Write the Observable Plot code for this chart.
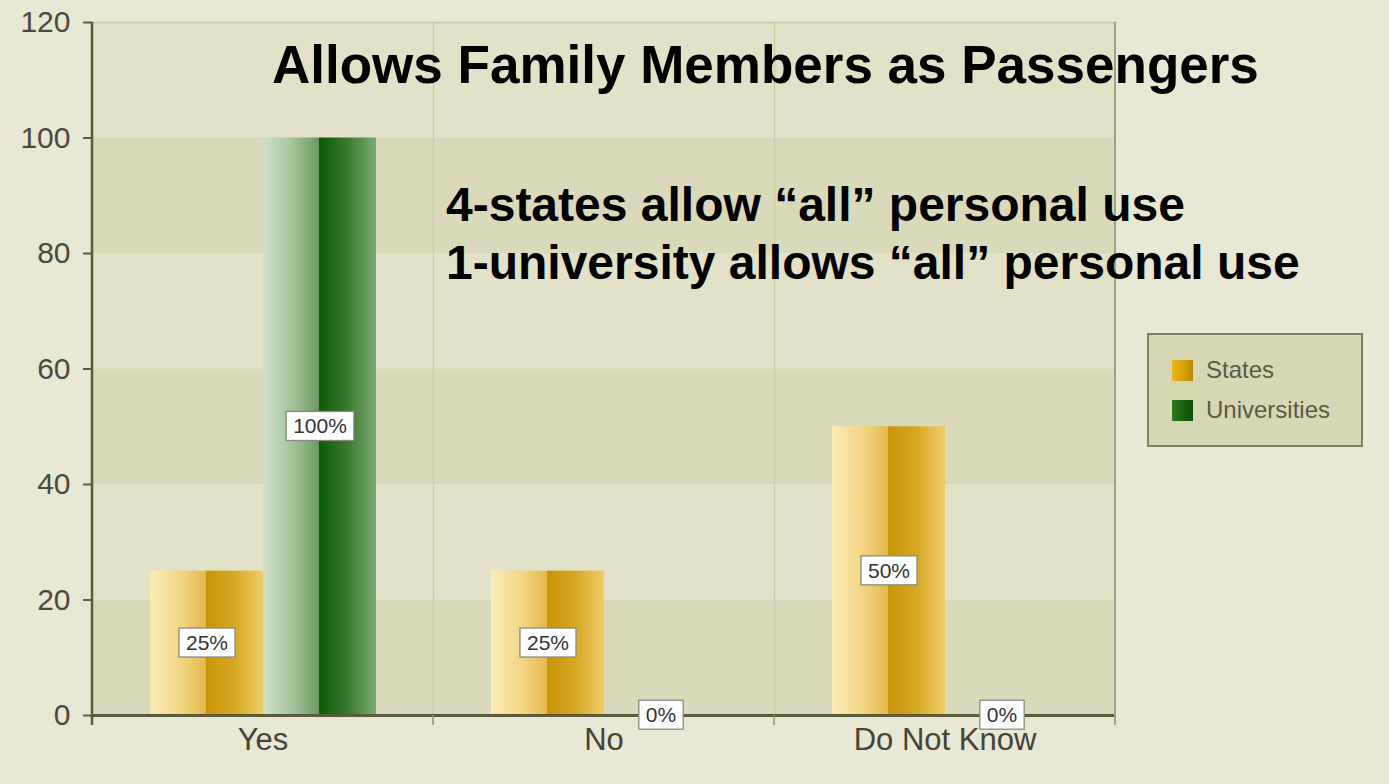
<!DOCTYPE html>
<html>
<head>
<meta charset="utf-8">
<script src="https://cdn.jsdelivr.net/npm/d3@7"></script>
<script src="https://cdn.jsdelivr.net/npm/@observablehq/plot@0.6"></script>
<style>
  html, body { margin: 0; padding: 0; background: #e9e8d5; }
  #wrap { position: relative; width: 1389px; height: 784px; overflow: hidden;
          font-family: "Liberation Sans", Arial, Helvetica, sans-serif; }
  #wrap svg { position: absolute; left: 0; top: 0; }
  .title { position: absolute; left: 272px; top: 38px; font-size: 53px; line-height: 53px;
           font-weight: bold; color: #000; white-space: nowrap; }
  .sub { position: absolute; left: 446px; top: 176px; font-size: 48px; line-height: 58px;
         font-weight: bold; color: #000; white-space: nowrap; }
  .legend { position: absolute; left: 1147px; top: 333px; width: 216px; height: 114px;
            box-sizing: border-box; background: #d8d7b4; border: 2px solid #7f7f64; }
  .item { position: absolute; left: 23px; height: 22px; display: flex; align-items: center;
          font-size: 24px; color: #5a5a46; white-space: nowrap; }
  .sw { width: 21px; height: 21px; margin-right: 13px; box-sizing: border-box; }
</style>
</head>
<body>
<div id="wrap"></div>
<script>
// ---- data ----
const categories = ["Yes", "No", "Do Not Know"];
const seriesNames = ["States", "Universities"];
const statesValues = [25, 25, 50];
const universitiesValues = [100, 0, 0];
const yTicks = [0, 20, 40, 60, 80, 100, 120];
const bandEdges = [0, 20, 40, 60, 80, 100, 120];
const titleText = "Allows Family Members as Passengers";
const subtitleLines = ["4-states allow \u201call\u201d personal use", "1-university allows \u201call\u201d personal use"];

const rows = categories.flatMap((c, i) => [
  {category: c, series: seriesNames[0], value: statesValues[i]},
  {category: c, series: seriesNames[1], value: universitiesValues[i]}
]);
const bands = d3.pairs(bandEdges).map(([a, b], i) => ({y1: a, y2: b, dark: i % 2 === 0}));

const W = 1389, H = 784, ML = 92, MR = 274, MT = 22, MB = 69;
const axisColor = "#5c5c3c";

const plot = Plot.plot({
  width: W, height: H,
  marginLeft: ML, marginRight: MR, marginTop: MT, marginBottom: MB,
  style: {background: "transparent", fontFamily: "'Liberation Sans', Arial, sans-serif", overflow: "visible"},
  fx: {domain: categories, padding: 0, label: null},
  x: {domain: seriesNames, paddingInner: 0, paddingOuter: 0.5, axis: null},
  y: {domain: [0, 120], label: null},
  marks: [
    Plot.rect(bands.filter(d => !d.dark), {y1: "y1", y2: "y2", fill: "#e3e2c9"}),
    Plot.rect(bands.filter(d => d.dark), {y1: "y1", y2: "y2", fill: "#dad9ba"}),
    Plot.frame({anchor: "left", stroke: "#cfcea9", strokeWidth: 1.5}),
    Plot.frame({anchor: "top", stroke: "#cfcea6", strokeWidth: 2}),
    Plot.barY(rows.filter(d => d.series === "States"),
      {fx: "category", x: "series", y: "value", fill: "url(#gradStates)"}),
    Plot.barY(rows.filter(d => d.series === "Universities"),
      {fx: "category", x: "series", y: "value", fill: "url(#gradUniv)"}),
    Plot.ruleY([0], {stroke: axisColor, strokeWidth: 3}),
    Plot.axisY({ticks: yTicks, tickSize: 9, tickPadding: 13, fontSize: 30,
                stroke: axisColor, strokeWidth: 2, fill: "#4a4a40", label: null}),
    Plot.axisFx({anchor: "bottom", tickSize: 0, tickPadding: 12, fontSize: 31,
                 fill: "#444438", label: null}),
    Plot.text(rows, {fx: "category", x: "series", y: d => d.value / 2,
                     text: d => d.value + "%", fontSize: 21, fill: "#333"})
  ]
});

const wrap = document.getElementById("wrap");
wrap.appendChild(plot);

// gradients (cylinder look)
const ns = "http://www.w3.org/2000/svg";
const defs = document.createElementNS(ns, "defs");
function grad(id, stops) {
  const g = document.createElementNS(ns, "linearGradient");
  g.setAttribute("id", id);
  g.setAttribute("x1", "0"); g.setAttribute("x2", "1");
  g.setAttribute("y1", "0"); g.setAttribute("y2", "0");
  for (const [o, c] of stops) {
    const s = document.createElementNS(ns, "stop");
    s.setAttribute("offset", o); s.setAttribute("stop-color", c);
    g.appendChild(s);
  }
  defs.appendChild(g);
}
grad("gradStates", [[0, "#fcebb6"], [0.25, "#f4d88a"], [0.495, "#e3b84c"],
                    [0.5, "#c89508"], [0.75, "#d6a826"], [1, "#efcd66"]]);
grad("gradUniv", [[0, "#cfe0c9"], [0.25, "#a6c59c"], [0.495, "#6a9a62"],
                  [0.5, "#0b5a05"], [0.75, "#3a7a30"], [1, "#7aac70"]]);
plot.insertBefore(defs, plot.firstChild);

// white boxes behind percentage labels
plot.querySelectorAll('g[aria-label="text"] text').forEach(t => {
  const b = t.getBBox();
  const r = document.createElementNS(ns, "rect");
  r.setAttribute("x", b.x - 7);
  r.setAttribute("y", b.y - 3);
  r.setAttribute("width", b.width + 14);
  r.setAttribute("height", b.height + 6);
  r.setAttribute("fill", "#ffffff");
  r.setAttribute("stroke", "#8a8a80");
  r.setAttribute("stroke-width", "1.3");
  const tr = t.getAttribute("transform");
  if (tr) r.setAttribute("transform", tr);
  t.parentNode.insertBefore(r, t);
});

// axis line, right border, category boundary ticks
const yS = plot.scale("y");
const fxS = plot.scale("fx");
const y0 = yS.apply(0), yTop = yS.apply(120);
const g = document.createElementNS(ns, "g");
function line(x1, y1, x2, y2, stroke, sw) {
  const l = document.createElementNS(ns, "line");
  l.setAttribute("x1", x1); l.setAttribute("y1", y1);
  l.setAttribute("x2", x2); l.setAttribute("y2", y2);
  l.setAttribute("stroke", stroke); l.setAttribute("stroke-width", sw);
  g.appendChild(l);
}
const xRight = W - MR;
const boundaries = categories.map(c => fxS.apply(c)).slice(1);
boundaries.forEach(x => line(x, y0, x, y0 + 10, "#8f8f78", 1.5));
line(xRight, yTop, xRight, y0 + 10, "#a2a283", 2);
line(ML, yTop, ML, y0 + 10, axisColor, 2.5);
plot.appendChild(g);

// titles
const t = document.createElement("div");
t.className = "title"; t.textContent = titleText; wrap.appendChild(t);
const s = document.createElement("div");
s.className = "sub";
subtitleLines.forEach(line => { const d = document.createElement("div"); d.textContent = line; s.appendChild(d); });
wrap.appendChild(s);

// legend
const legendColors = {
  States: "linear-gradient(90deg, #e9b820, #d49e00 60%, #b88a00)",
  Universities: "linear-gradient(90deg, #2a7a1e, #145e0c 60%, #0d4f08)"
};
const lg = document.createElement("div");
lg.className = "legend";
seriesNames.forEach((name, i) => {
  const it = document.createElement("div");
  it.className = "item";
  it.style.top = (24 + i * 40) + "px";
  const sw = document.createElement("div");
  sw.className = "sw"; sw.style.background = legendColors[name];
  it.appendChild(sw);
  const tx = document.createElement("span"); tx.textContent = name;
  it.appendChild(tx);
  lg.appendChild(it);
});
wrap.appendChild(lg);
</script>
</body>
</html>
